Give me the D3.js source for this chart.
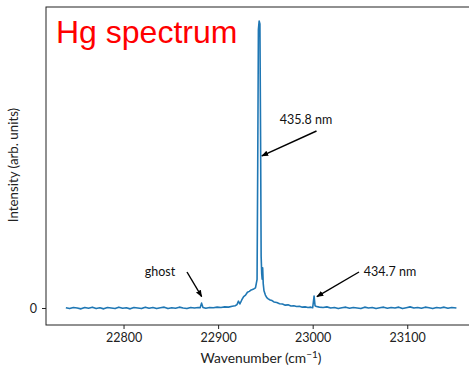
<!DOCTYPE html>
<html><head><meta charset="utf-8">
<script src="https://cdn.jsdelivr.net/npm/d3@7"></script>
<style>body{margin:0;background:#fff}svg{display:block}</style>
</head><body>
<script>
const wavenumber = [22739,22743,22747,22751,22755,22759,22763,22767,22771,22775,22779,22783,22787,22791,22795,22799,22803,22807,22811,22815,22819,22823,22827,22831,22835,22839,22843,22847,22851,22855,22859,22863,22867,22871,22875,22879,22881,22882.5,22884,22887,22891,22895,22899,22903,22907,22911,22915,22918,22920,22921.5,22923,22925,22927,22929,22931,22933,22935,22937,22939.5,22941.2,22941.9,22942.6,22943.4,22944.2,22944.9,22945.5,22946.1,22946.6,22947.1,22947.7,22948.5,22950,22951.5,22953,22955,22957,22959,22962,22965,22968,22971,22974,22977,22980,22983,22986,22989,22992,22995,22998,23000,23001.5,23002.5,23004,23007,23011,23015,23019,23023,23027,23031,23035,23039,23043,23047,23051,23055,23059,23063,23067,23071,23075,23079,23083,23087,23091,23095,23099,23103,23107,23111,23115,23119,23123,23127,23131,23135,23139,23143,23147,23152];
const intensity = [0.001,-0.002,0.002,0.000,-0.003,0.002,-0.001,0.003,-0.002,0.001,-0.003,0.002,0.000,-0.002,0.003,-0.001,0.001,-0.003,0.002,0.000,-0.002,0.003,-0.001,0.002,-0.002,0.001,0.003,-0.002,0.001,-0.001,0.003,0.000,-0.002,0.002,0.000,0.002,0.001,0.017,0.002,-0.001,0.002,0.001,0.003,0.002,0.004,0.003,0.006,0.008,0.012,0.024,0.014,0.028,0.040,0.045,0.055,0.058,0.063,0.065,0.070,0.100,0.500,0.970,1.000,0.990,0.600,0.180,0.120,0.100,0.140,0.085,0.060,0.045,0.036,0.032,0.028,0.026,0.021,0.019,0.015,0.014,0.010,0.011,0.007,0.008,0.005,0.006,0.003,0.004,0.002,0.003,0.001,0.042,0.008,0.005,0.003,0.002,0.004,0.000,0.002,-0.002,0.001,0.003,-0.001,0.002,0.000,-0.002,0.003,0.000,0.002,-0.002,0.001,0.003,-0.001,0.002,0.000,0.003,-0.002,0.001,0.004,0.000,0.002,-0.001,0.003,0.001,-0.002,0.002,0.000,0.003,-0.001,0.002,0.000];
const xTicks = [22800,22900,23000,23100];
const yTicks = [0];
const title = "Hg spectrum";
const annotations = [
  {text:"435.8 nm", x:22946.2, y:0.53},
  {text:"ghost", x:22882.6, y:0.04},
  {text:"434.7 nm", x:23004.5, y:0.04}
];

const W=469,H=367;
const svg=d3.select("body").append("svg").attr("width",W).attr("height",H);
const x=d3.scaleLinear().domain([22718,23172.7]).range([46,476]);
const y=d3.scaleLinear().domain([-0.0592,1.0488]).range([325,7]);
const font="Lato, 'Open Sans', sans-serif";

// frame
svg.append("rect").attr("x",46).attr("y",7).attr("width",430).attr("height",318)
  .attr("fill","none").attr("stroke","#222").attr("stroke-width",1);

// axes
const xa=svg.append("g").attr("transform","translate(0,325)")
  .call(d3.axisBottom(x).tickValues(xTicks).tickFormat(d3.format("d")).tickSize(4).tickPadding(4));
const ya=svg.append("g").attr("transform","translate(46,0)")
  .call(d3.axisLeft(y).tickValues(yTicks).tickFormat(d3.format("d")).tickSize(4).tickPadding(5));
[xa,ya].forEach(g=>{
  g.select(".domain").remove();
  g.selectAll("line").attr("stroke","#222");
  g.selectAll("text").attr("font-family",font).attr("font-size",12.5).attr("fill","#222");
});

// line
const pts=wavenumber.map((w,i)=>[w,intensity[i]]);
svg.append("path").datum(pts)
  .attr("fill","none").attr("stroke","#1f77b4").attr("stroke-width",1.6).attr("stroke-linejoin","round")
  .attr("d",d3.line().x(d=>x(d[0])).y(d=>y(d[1])));

// labels
svg.append("text").attr("x",261).attr("y",363).attr("text-anchor","middle")
  .attr("font-family",font).attr("font-size",13.8).attr("fill","#222")
  .html('Wavenumber (cm<tspan dy="-5" font-size="10">−1</tspan><tspan dy="5">)</tspan>');
svg.append("text").attr("transform","translate(18,165) rotate(-90)").attr("text-anchor","middle")
  .attr("font-family",font).attr("font-size",13.3).attr("fill","#222")
  .text("Intensity (arb. units)");

svg.append("text").attr("x",56).attr("y",43).attr("font-family","'Liberation Sans', Arial, sans-serif")
  .attr("font-size",32).attr("fill","#ff0000").text(title);

// arrows
svg.append("defs").append("marker").attr("id","ah").attr("viewBox","0 0 10 10")
  .attr("refX",9).attr("refY",5).attr("markerWidth",7).attr("markerHeight",7).attr("orient","auto")
  .attr("markerUnits","userSpaceOnUse")
  .append("path").attr("d","M0,1 L10,5 L0,9 Z").attr("fill","#000");

const arrowDefs=[
  {a:annotations[0], sx:316.5, sy:131, lx:306, ly:124},
  {a:annotations[1], sx:187, sy:272, lx:160, ly:276},
  {a:annotations[2], sx:359, sy:272, lx:390, ly:276}
];
arrowDefs.forEach(d=>{
  svg.append("line").attr("x1",d.sx).attr("y1",d.sy).attr("x2",x(d.a.x)).attr("y2",y(d.a.y))
    .attr("stroke","#000").attr("stroke-width",1.4).attr("marker-end","url(#ah)");
  svg.append("text").attr("x",d.lx).attr("y",d.ly).attr("text-anchor","middle")
    .attr("font-family",font).attr("font-size",12.5).attr("fill","#111").text(d.a.text);
});
</script>
</body></html>
